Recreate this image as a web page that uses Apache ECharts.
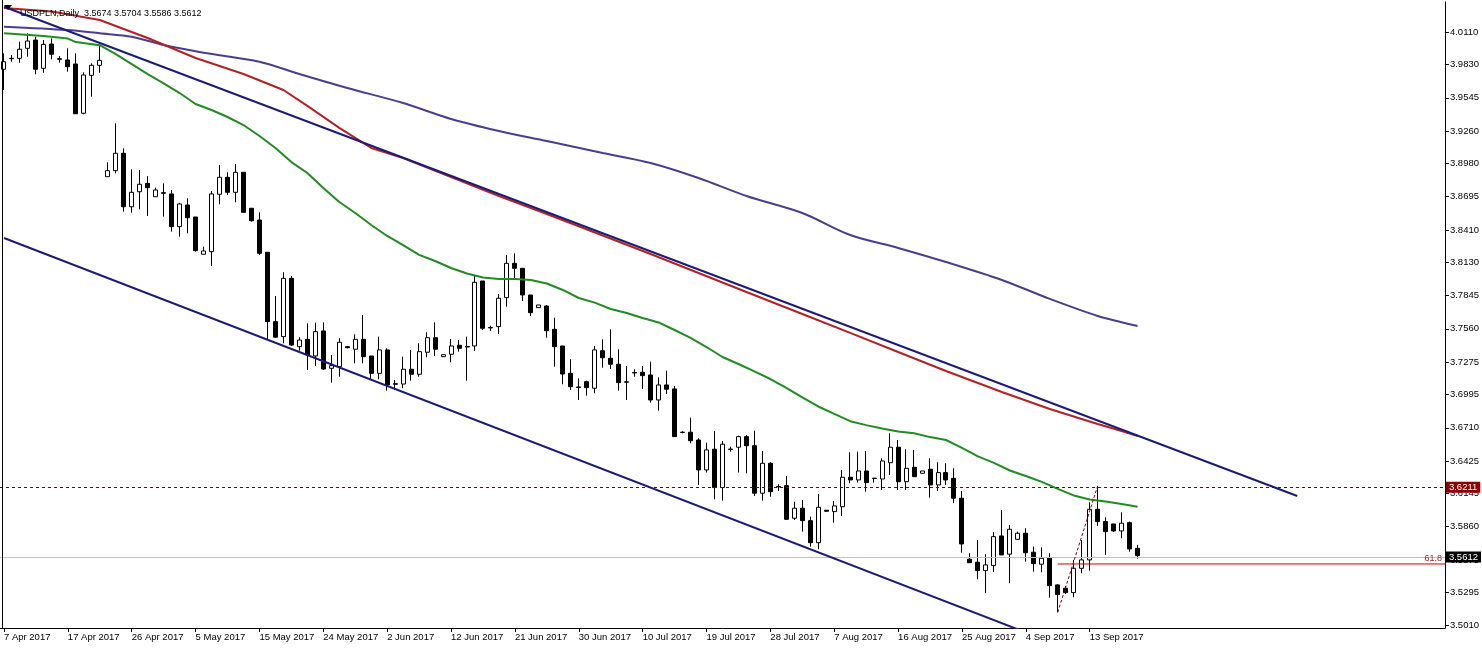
<!DOCTYPE html>
<html><head><meta charset="utf-8">
<script src="https://cdn.jsdelivr.net/npm/echarts@6/dist/echarts.min.js"></script>
<style>html,body{margin:0;padding:0;background:#fff}#c{width:1482px;height:649px}</style>
</head><body><div id="c"></div>
<script>
const symbol = 'USDPLN', timeframe = 'Daily';
const firstDate = '2017-04-07';      // first visible bar (broker has Sunday bars, no Saturday)
const slotCount = 181;               // bars + empty future space to the right
const dateLabelStep = 8, lastLabelIndex = 136;

const opens = [
3.9790,3.9884,3.9884,3.9970,4.0041,3.9798,4.0007,3.9881,3.9870,3.9835,
3.9412,3.9738,3.9824,3.8867,3.8919,3.9068,3.8609,3.8738,3.8810,3.8695,
3.8730,3.8719,3.8438,3.8624,3.8521,3.8201,3.8223,3.8716,3.8862,3.8733,
3.8905,3.8596,3.8495,3.8218,3.7622,3.7493,3.7994,3.7407,3.7470,3.7327,
3.7542,3.7221,3.7235,3.7407,3.7385,3.7470,3.7327,3.7178,3.7379,3.7089,
3.7086,3.7213,3.7170,3.7359,3.7484,3.7321,3.7342,3.7419,3.7409,3.7413,
3.7971,3.7572,3.7579,3.7828,3.8123,3.8080,3.7851,3.7742,3.7756,3.7556,
3.7413,3.7178,3.7061,3.7106,3.7050,3.7372,3.7307,3.7256,3.7105,3.7185,
3.7187,3.7164,3.6949,3.7078,3.7044,3.6672,3.6672,3.6605,3.6348,3.6526,
3.6196,3.6527,3.6543,3.6634,3.6556,3.6148,3.6405,3.6206,3.6213,3.5933,
3.6019,3.5912,3.5723,3.6002,3.5990,3.6032,3.6285,3.6262,3.6339,3.6277,
3.6270,3.6410,3.6543,3.6247,3.6371,3.6319,3.6354,3.6219,3.6325,3.6276,
3.6105,3.5581,3.5555,3.5483,3.5526,3.5781,3.5624,3.5752,3.5804,3.5641,
3.5538,3.5589,3.5360,3.5332,3.5294,3.5503,3.5575,3.6010,3.5904,3.5884,
3.5824,3.5895,3.5674];
const closes = [
3.9855,3.9881,3.9962,4.0033,3.9790,4.0004,3.9919,3.9876,3.9812,3.9408,
3.9741,3.9824,3.9867,3.8919,3.9068,3.8609,3.8733,3.8802,3.8773,3.8753,
3.8725,3.8438,3.8633,3.8515,3.8232,3.8229,3.8719,3.8862,3.8733,3.8905,
3.8561,3.8489,3.8209,3.7622,3.7488,3.7994,3.7421,3.7464,3.7336,3.7536,
3.7215,3.7244,3.7445,3.7398,3.7470,3.7321,3.7178,3.7379,3.7078,3.7084,
3.7213,3.7170,3.7364,3.7484,3.7385,3.7338,3.7413,3.7393,3.7404,3.7960,
3.7565,3.7568,3.7823,3.8123,3.8080,3.7851,3.7699,3.7765,3.7544,3.7407,
3.7172,3.7063,3.7056,3.7055,3.7379,3.7312,3.7256,3.7098,3.7102,3.7181,
3.7158,3.6949,3.7078,3.7041,3.6634,3.6670,3.6599,3.6348,3.6520,3.6196,
3.6569,3.6524,3.6634,3.6556,3.6148,3.6405,3.6161,3.6202,3.5924,3.6019,
3.5912,3.5723,3.6027,3.5993,3.6039,3.6285,3.6262,3.6339,3.6239,3.6275,
3.6425,3.6543,3.6247,3.6362,3.6290,3.6339,3.6219,3.6325,3.6262,3.6105,
3.5712,3.5551,3.5483,3.5532,3.5775,3.5618,3.5838,3.5804,3.5637,3.5543,
3.5589,3.5354,3.5277,3.5294,3.5503,3.5575,3.6010,3.5904,3.5818,3.5824,
3.5890,3.5669,3.5612];
const lows = [
3.9612,3.9855,3.9846,3.9898,3.9747,3.9760,3.9876,3.9846,3.9769,3.9408,
3.9403,3.9554,3.9760,3.8867,3.8896,3.8567,3.8558,3.8587,3.8530,3.8695,
3.8524,3.8395,3.8352,3.8381,3.8223,3.8201,3.8100,3.8630,3.8710,3.8647,
3.8561,3.8481,3.8195,3.7464,3.7488,3.7436,3.7413,3.7372,3.7207,3.7241,
3.7207,3.7098,3.7149,3.7393,3.7264,3.7264,3.7127,3.7127,3.7029,3.7035,
3.7050,3.7115,3.7149,3.7316,3.7327,3.7321,3.7273,3.7364,3.7115,3.7370,
3.7550,3.7542,3.7516,3.7750,3.7994,3.7799,3.7671,3.7742,3.7484,3.7235,
3.7084,3.7035,3.6949,3.6986,3.7007,3.7226,3.7215,3.7029,3.6949,3.7149,
3.7044,3.6926,3.6857,3.7001,3.6634,3.6663,3.6577,3.6219,3.6325,3.6096,
3.6084,3.6505,3.6325,3.6319,3.6124,3.6084,3.6118,3.6167,3.5918,3.5918,
3.5818,3.5689,3.5667,3.5991,3.5895,3.5953,3.6234,3.6239,3.6161,3.6239,
3.6176,3.6305,3.6176,3.6176,3.6290,3.6319,3.6110,3.6167,3.6219,3.6062,
3.5637,3.5551,3.5409,3.5289,3.5472,3.5618,3.5375,3.5746,3.5560,3.5474,
3.5469,3.5251,3.5125,3.5283,3.5254,3.5460,3.5483,3.5867,3.5618,3.5818,
3.5761,3.5646,3.5586];
const highs = [
3.9927,3.9913,4.0027,4.0099,4.0070,4.0041,4.0056,3.9904,3.9970,3.9927,
3.9764,3.9841,3.9990,3.8991,3.9326,3.9111,3.8931,3.8925,3.8873,3.8773,
3.8810,3.8753,3.8644,3.8682,3.8521,3.8266,3.8744,3.8968,3.8905,3.8976,
3.8905,3.8596,3.8561,3.8218,3.7842,3.8046,3.8014,3.7488,3.7608,3.7613,
3.7616,3.7336,3.7479,3.7413,3.7513,3.7679,3.7327,3.7493,3.7393,3.7121,
3.7321,3.7379,3.7436,3.7531,3.7616,3.7338,3.7473,3.7464,3.7493,3.8014,
3.7971,3.7587,3.7860,3.8195,3.8209,3.8080,3.7851,3.7765,3.7765,3.7656,
3.7413,3.7299,3.7135,3.7115,3.7413,3.7470,3.7556,3.7385,3.7241,3.7213,
3.7241,3.7278,3.7144,3.7201,3.7069,3.6680,3.6797,3.6620,3.6582,3.6683,
3.6597,3.6548,3.6642,3.6648,3.6685,3.6511,3.6414,3.6225,3.6296,3.6075,
3.6090,3.5947,3.6142,3.6004,3.6081,3.6348,3.6500,3.6505,3.6511,3.6277,
3.6448,3.6663,3.6605,3.6526,3.6520,3.6339,3.6448,3.6414,3.6405,3.6362,
3.6167,3.5632,3.5746,3.5624,3.5813,3.6004,3.5875,3.5818,3.5847,3.5689,
3.5684,3.5632,3.5366,3.5351,3.5575,3.5746,3.6070,3.6211,3.5941,3.5884,
3.5984,3.5904,3.5704];

const maGreenIdx = [0,5,8,9,12,14,16,18,20,22,24,26,28,30,32,34,36,38,40,42,44,46,48,50,52,54,56,58,60,62,64,66,68,70,72,74,76,78,80,82,84,86,88,90,92,94,96,98,100,102,104,106,108,110,112,114,116,118,120,122,124,126,128,130,132,134,136,138,140,142];
const maGreenVal = [4.0099,4.0076,4.0054,4.0024,3.9997,3.9921,3.9835,3.9749,3.9668,3.9586,3.9492,3.9440,3.9380,3.9311,3.9217,3.9114,3.8993,3.8899,3.8770,3.8650,3.8555,3.8452,3.8358,3.8280,3.8195,3.8143,3.8083,3.8036,3.8001,3.7988,3.7988,3.7980,3.7950,3.7894,3.7825,3.7785,3.7731,3.7696,3.7653,3.7615,3.7550,3.7482,3.7404,3.7318,3.7258,3.7194,3.7129,3.7052,3.6971,3.6893,3.6829,3.6767,3.6733,3.6704,3.6678,3.6663,3.6630,3.6605,3.6537,3.6464,3.6408,3.6343,3.6296,3.6245,3.6185,3.6129,3.6094,3.6077,3.6056,3.6032];
const maRedIdx = [0,6,12,18,24,30,35,38,42,46,50,56,62,68,75,81,87,93,100,106,112,118,125,131,135,137,140,142];
const maRedVal = [4.0316,4.0286,4.0213,4.0059,3.9887,3.9749,3.9612,3.9475,3.9286,3.9114,3.9028,3.8865,3.8701,3.8547,3.8362,3.8203,3.8040,3.7877,3.7688,3.7525,3.7361,3.7198,3.7018,3.6872,3.6786,3.6743,3.6683,3.6640];
const maPurpleIdx = [0,8,12,16,20,25,32,37,43,50,56,62,68,75,81,87,93,100,106,112,118,125,131,137,142];
const maPurpleVal = [4.0156,4.0127,4.0099,4.0070,3.9998,3.9932,3.9855,3.9749,3.9629,3.9500,3.9363,3.9260,3.9174,3.9071,3.8985,3.8856,3.8701,3.8555,3.8366,3.8255,3.8134,3.7980,3.7817,3.7671,3.7585];

// Drawn objects: trend lines (bar index, price)
const trendUpper = [[0, 4.0327], [162, 3.6124]];
const trendLower = [[0, 3.8341], [130, 3.4899]];
const fiboFrom = [132, 3.5125], fiboTo = [137, 3.6211];
const fibo618 = 3.5540, fiboLabel = '61.8';
const highLevel = 3.6211, bidLevel = 3.5612;

const priceTicks = ['4.0110','3.9830','3.9545','3.9260','3.8980','3.8695','3.8410','3.8130','3.7845','3.7560','3.7275','3.6995','3.6710','3.6425','3.6145','3.5860','3.5575','3.5295','3.5010'];
const priceMin = 3.4990, priceMax = 4.0368;

// calendar of bars
const MON = ['Jan','Feb','Mar','Apr','May','Jun','Jul','Aug','Sep','Oct','Nov','Dec'];
const categories = [];
{
  const d = new Date(firstDate + 'T00:00:00Z');
  while (categories.length < slotCount) {
    if (d.getUTCDay() !== 6) categories.push(d.getUTCDate() + ' ' + MON[d.getUTCMonth()] + ' ' + d.getUTCFullYear());
    d.setUTCDate(d.getUTCDate() + 1);
  }
}
const candles = opens.map((o, i) => [o, closes[i], lows[i], highs[i]]);
const pairs = (idx, val) => idx.map((x, k) => [x, val[k]]);
const last = opens.length - 1;
const FONT = '"Liberation Sans", Arial, sans-serif';
const showLabel = (i) => i % dateLabelStep === 0 && i <= lastLabelIndex;

const chart = echarts.init(document.getElementById('c'), null, {renderer: 'canvas'});
chart.setOption({
  animation: false,
  backgroundColor: '#ffffff',
  title: {
    text: symbol + ',' + timeframe + '  ' + [opens[last], highs[last], lows[last], closes[last]].map(v => v.toFixed(4)).join(' '),
    left: 15, top: 4,
    textStyle: {fontSize: 9, fontWeight: 'normal', color: '#000', fontFamily: FONT}
  },
  graphic: [
    {type: 'line', shape: {x1: 2.5, y1: 0, x2: 2.5, y2: 628}, style: {stroke: '#000', lineWidth: 1}, z: 10},
    {type: 'polygon', shape: {points: [[4, 5], [12, 5], [8, 10]]}, style: {fill: '#000'}, z: 10}
  ],
  grid: {left: -1, right: 36, top: 2, bottom: 21, containLabel: false},
  xAxis: {
    type: 'category', data: categories, boundaryGap: true,
    axisLine: {show: true, lineStyle: {color: '#000', width: 1}},
    axisTick: {show: true, interval: showLabel, alignWithLabel: true, length: 4, lineStyle: {color: '#000'}},
    axisLabel: {interval: showLabel, align: 'left', margin: 4, fontSize: 9.5, color: '#000', fontFamily: FONT},
    splitLine: {show: false}
  },
  yAxis: {
    type: 'value', position: 'right', min: priceMin, max: priceMax, scale: true,
    axisLine: {show: true, lineStyle: {color: '#000', width: 1}},
    axisTick: {show: true, length: 4, lineStyle: {color: '#000'}, customValues: priceTicks.map(Number)},
    axisLabel: {margin: 5, fontSize: 9.5, color: '#000', fontFamily: FONT,
      customValues: priceTicks.map(Number), formatter: v => v.toFixed(4)},
    splitLine: {show: false}
  },
  series: [
    {
      type: 'candlestick', data: candles, barWidth: 4.5, z: 2,
      itemStyle: {color: '#ffffff', color0: '#000000', borderColor: '#000000', borderColor0: '#000000', borderWidth: 1},
      markLine: {
        silent: true, symbol: ['none', 'none'], animation: false,
        data: [
          {yAxis: highLevel, lineStyle: {type: [3, 3], color: '#7A0000', width: 1},
           label: {show: true, position: 'end', distance: 1, formatter: highLevel.toFixed(4), color: '#fff',
             backgroundColor: '#8B0000', padding: [1, 3, 0, 3], fontSize: 9.5, fontFamily: FONT}},
          {yAxis: bidLevel, lineStyle: {type: 'solid', color: '#C0C0C0', width: 1},
           label: {show: true, position: 'end', distance: 1, formatter: bidLevel.toFixed(4), color: '#fff',
             backgroundColor: '#000', padding: [1, 3, 0, 3], fontSize: 9.5, fontFamily: FONT}}
        ]
      }
    },
    {type: 'line', data: pairs(maPurpleIdx, maPurpleVal), showSymbol: false, symbol: 'none', z: 4, smooth: 0.3,
     lineStyle: {color: '#4B3D8F', width: 2}},
    {type: 'line', data: pairs(maRedIdx, maRedVal), showSymbol: false, symbol: 'none', z: 4,
     lineStyle: {color: '#B22222', width: 2}},
    {type: 'line', data: trendUpper, showSymbol: false, symbol: 'none', z: 5,
     lineStyle: {color: '#1C1C78', width: 2}},
    {type: 'line', data: trendLower, showSymbol: false, symbol: 'none', z: 5,
     lineStyle: {color: '#1C1C78', width: 2}},
    {type: 'line', data: pairs(maGreenIdx, maGreenVal), showSymbol: false, symbol: 'none', z: 4,
     lineStyle: {color: '#228B22', width: 2}},
    {type: 'line', data: [fiboFrom, fiboTo], showSymbol: false, symbol: 'none', z: 6,
     lineStyle: {color: '#8B0000', width: 1, type: [3, 2]}},
    {type: 'line', showSymbol: false, symbol: 'none', z: 6,
     data: [[fiboFrom[0], fibo618], [slotCount - 0.5, fibo618]],
     lineStyle: {color: '#CC0000', width: 1},
     endLabel: {show: true, formatter: fiboLabel, distance: 0, align: 'right', verticalAlign: 'bottom',
       offset: [-4, -1], color: '#B22222', fontSize: 9, fontFamily: FONT}}
  ]
});
</script></body></html>
